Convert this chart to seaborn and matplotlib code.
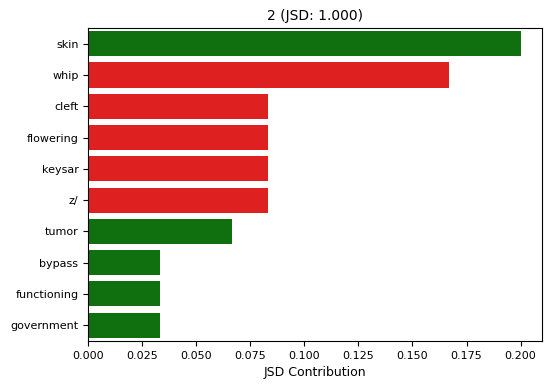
import matplotlib
matplotlib.use("Agg")
import matplotlib.pyplot as plt
import seaborn as sns
import pandas as pd

words = ["skin", "whip", "cleft", "flowering", "keysar", "z/", "tumor", "bypass", "functioning", "government"]
values = [0.2, 0.1667, 0.0833, 0.0833, 0.0833, 0.0833, 0.0667, 0.0333, 0.0333, 0.0333]
colors = ["green", "red", "red", "red", "red", "red", "green", "green", "green", "green"]

df = pd.DataFrame({"word": words, "value": values, "color": colors})

fig, ax = plt.subplots(figsize=(5.51, 3.9), dpi=100)
sns.barplot(data=df, x="value", y="word", hue="word", palette=colors, legend=False, ax=ax)
ax.set_title("2 (JSD: 1.000)", fontsize=10)
ax.set_xlabel("JSD Contribution", fontsize=9)
ax.set_ylabel("")
ax.tick_params(axis="both", labelsize=8)
fig.subplots_adjust(left=0.160, right=0.984, top=0.928, bottom=0.126)
fig.savefig("out.png", dpi=100)
